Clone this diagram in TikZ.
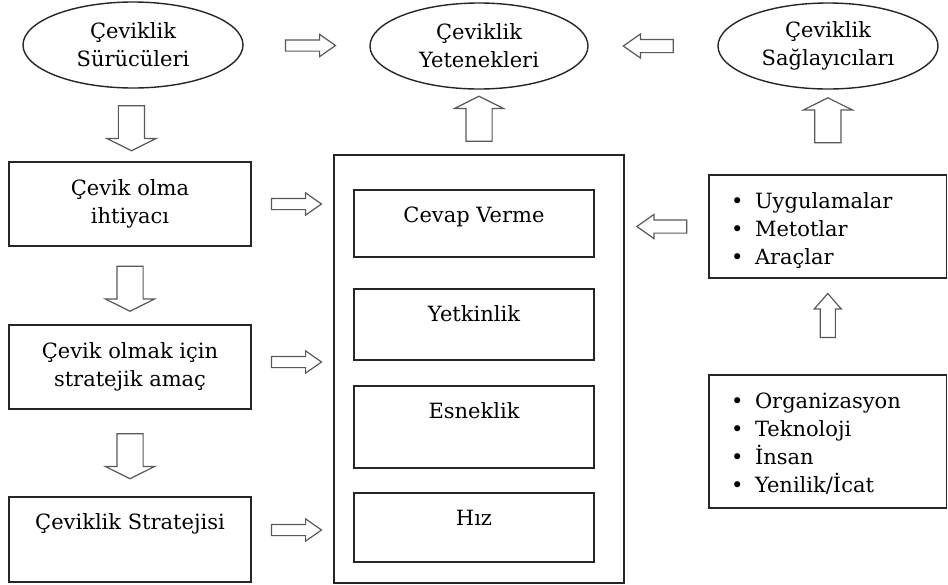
\documentclass[tikz,border=0pt]{standalone}
\usepackage{fontspec}
\setmainfont{DejaVu Serif}
\usetikzlibrary{shapes.geometric,shapes.arrows}

\newcommand\itm[1]{\makebox[24pt][l]{\textbullet}#1}

\tikzset{
  every node/.style={font=\fontsize{21}{28}\selectfont},
  oval/.style={ellipse, draw=black!85, line width=1.4pt, minimum width=220pt, minimum height=86pt, inner sep=0pt, align=center},
  plainbox/.style={draw=black!85, line width=1.4pt, minimum width=242pt, minimum height=84pt, inner sep=0pt, align=center},
  topbox/.style={draw=black!85, line width=1.4pt, minimum width=240pt, inner ysep=0pt, text height=32pt, text depth=#1},
  listbox/.style={draw=black!85, line width=1.4pt, text width=193.5pt, inner xsep=22pt, inner ysep=0pt, align=left, text height=33pt, text depth=#1},
  blk/.style={single arrow, draw=black!65, line width=1.2pt, fill=white},
  harr/.style={blk, inner sep=5pt, minimum height=50pt, single arrow head extend=5.5pt, single arrow tip angle=70},
  varr/.style={blk, inner sep=12.5pt, minimum height=45pt, single arrow head extend=11.5pt, single arrow tip angle=127},
  tarr/.style={blk, inner sep=7pt, minimum height=44pt, single arrow head extend=6pt, single arrow tip angle=82},
}

\begin{document}
\begin{tikzpicture}[x=1pt,y=-1pt]
  \useasboundingbox (0,0) rectangle (948,584);

  % top row
  \node[oval] (e1) at (133,45) {Çeviklik\\Sürücüleri};
  \node[oval, minimum width=218pt] (e2) at (479,46) {Çeviklik\\Yetenekleri};
  \node[oval] (e3) at (828,46) {Çeviklik\\Sağlayıcıları};

  % left column
  \node[plainbox] (lb1) at (130,204) {Çevik olma\\ihtiyacı};
  \node[plainbox] (lb2) at (130,367) {Çevik olmak için\\stratejik amaç};
  \node[topbox=53pt, minimum width=242pt] (lb3) at (130,539.5) {Çeviklik Stratejisi};

  % capabilities
  \node[draw=black!85, line width=1.4pt, minimum width=290pt, minimum height=428pt] (cap) at (479,369) {};
  \node[topbox=35pt] (cv) at (474,223.5) {Cevap Verme};
  \node[topbox=39pt] (yt) at (474,324.5) {Yetkinlik};
  \node[topbox=50pt] (es) at (474,427) {Esneklik};
  \node[topbox=37pt] (hz) at (474,527.5) {Hız};

  % right column
  \node[listbox=70pt] (rb1) at (827.75,226.5) {\itm{Uygulamalar}\\\itm{Metotlar}\\\itm{Araçlar}};
  \node[listbox=100pt] (rb2) at (827.75,441.5) {\itm{Organizasyon}\\\itm{Teknoloji}\\\itm{İnsan}\\\itm{Yenilik/İcat}};

  % block arrows
  \path (e1) -- (e2) node[midway, harr] (a1) {};
  \path (e3) -- (e2) node[midway, harr, inner sep=6pt, shape border rotate=180] (a2) {};
  \path (e1) -- (lb1) node[midway, varr, shape border rotate=270] (a3) {};
  \path (cap) -- (e2) node[midway, varr, shape border rotate=90] (a4) {};
  \path (rb1) -- (e3) node[pos=0.6, varr, shape border rotate=90] (a5) {};
  \path (lb1) -- (lb2) node[midway, varr, shape border rotate=270] (a6) {};
  \path (lb2) -- (lb3) node[midway, varr, shape border rotate=270] (a7) {};
  \path (lb1) -- (lb1 -| cap.west) node[midway, harr] (a8) {};
  \path ([yshift=5pt]lb2.east) -- ([yshift=5pt]lb2.east -| cap.west) node[midway, harr] (a9) {};
  \path ([yshift=9.5pt]lb3.east) -- ([yshift=9.5pt]lb3.east -| cap.west) node[midway, harr] (a10) {};
  \path (rb1) -- (rb1 -| cap.east) node[midway, harr, inner sep=6pt, shape border rotate=180] (a11) {};
  \path (rb2) -- (rb1) node[pos=0.57, tarr, shape border rotate=90] (a12) {};
\end{tikzpicture}
\end{document}
